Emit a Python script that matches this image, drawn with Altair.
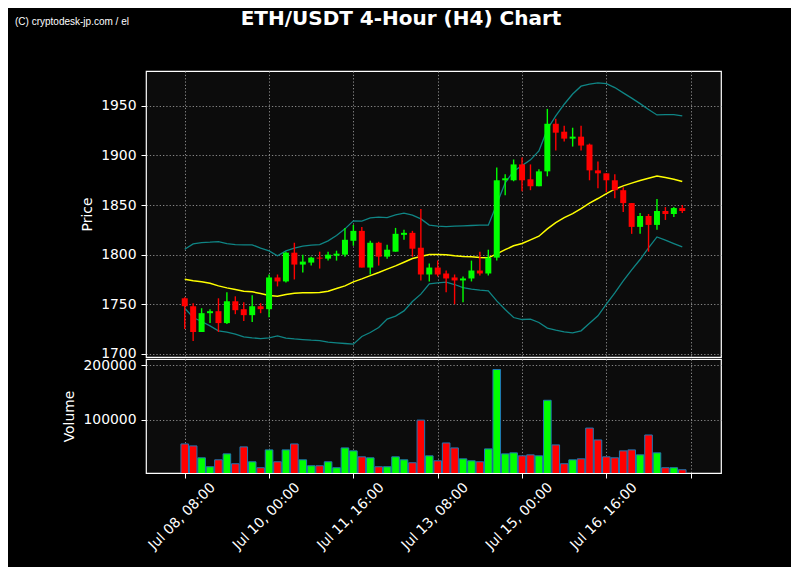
import altair as alt
import pandas as pd

# ---------------- data ----------------
title_text = "ETH/USDT 4-Hour (H4) Chart"
watermark_text = "(C) cryptodesk-jp.com / el"

tick_index = [0, 10, 20, 30, 40, 50, 60]
tick_labels = ["Jul 08, 08:00", "Jul 10, 00:00", "Jul 11, 16:00", "Jul 13, 08:00",
               "Jul 15, 00:00", "Jul 16, 16:00", ""]

opens = [1756, 1748, 1722, 1741, 1743, 1731, 1753, 1745, 1739, 1748,
         1745, 1777, 1773, 1802, 1790, 1792, 1797, 1796, 1799, 1800,
         1814, 1824, 1787, 1812, 1798, 1803, 1820, 1822, 1807, 1780,
         1787, 1781, 1777, 1774, 1776, 1784, 1781, 1797, 1875, 1875,
         1891, 1876, 1869, 1884, 1932, 1924, 1917, 1919, 1911, 1885,
         1882, 1875, 1865, 1852, 1828, 1839, 1830, 1844, 1841, 1847]
highs = [1757, 1751, 1746, 1745, 1756, 1762, 1758, 1752, 1759, 1751,
         1780, 1780, 1803, 1812, 1800, 1798, 1803, 1803, 1804, 1827,
         1830, 1828, 1814, 1813, 1810, 1827, 1825, 1824, 1846, 1791,
         1794, 1784, 1780, 1778, 1794, 1803, 1805, 1888, 1881, 1896,
         1898, 1891, 1886, 1947, 1937, 1930, 1928, 1930, 1912, 1894,
         1882, 1881, 1868, 1852, 1842, 1841, 1856, 1848, 1848, 1850]
lows = [1725, 1713, 1722, 1731, 1722, 1730, 1740, 1733, 1732, 1741,
        1737, 1768, 1772, 1775, 1782, 1789, 1786, 1794, 1794, 1798,
        1809, 1787, 1780, 1789, 1796, 1803, 1815, 1798, 1774, 1773,
        1778, 1762, 1750, 1752, 1773, 1779, 1779, 1794, 1860, 1874,
        1864, 1865, 1869, 1879, 1905, 1914, 1909, 1905, 1875, 1867,
        1863, 1857, 1843, 1821, 1821, 1803, 1825, 1835, 1838, 1842]
closes = [1748, 1722, 1741, 1743, 1731, 1753, 1744, 1739, 1748, 1745,
          1777, 1773, 1802, 1790, 1793, 1797, 1796, 1800, 1801, 1815,
          1824, 1787, 1812, 1798, 1805, 1821, 1822, 1806, 1780, 1787,
          1780, 1776, 1774, 1776, 1784, 1781, 1797, 1875, 1877, 1891,
          1875, 1869, 1884, 1932, 1923, 1917, 1919, 1910, 1885, 1882,
          1875, 1865, 1852, 1828, 1839, 1830, 1844, 1841, 1847, 1844]
volumes = [55800, 52200, 30400, 14000, 26700, 37600, 19500, 50400, 23100, 12200,
           44900, 23100, 44900, 55800, 26700, 15800, 15800, 23100, 12200, 48500,
           43100, 32200, 30400, 14000, 14000, 32200, 26700, 21300, 99500, 34000,
           24900, 57600, 48500, 28500, 24900, 23100, 46700, 192200, 37600, 39500,
           34000, 35800, 34000, 135800, 54000, 19500, 26700, 28500, 84900, 63100,
           32200, 30400, 43100, 44900, 35800, 72200, 39500, 12200, 12200, 8500]
sma20 = [1775.3, 1773.6, 1772.6, 1771.2, 1768.5, 1766.5, 1764.8, 1763.2, 1762.5, 1760.8,
         1758.8, 1758.1, 1759.8, 1761.0, 1761.5, 1761.5, 1761.8, 1763.2, 1765.8, 1768.5,
         1772.6, 1775.6, 1778.9, 1782.0, 1785.4, 1788.7, 1792.4, 1796.1, 1798.1, 1800.1,
         1800.1, 1799.8, 1798.8, 1798.1, 1797.8, 1797.1, 1796.8, 1800.8, 1805.1, 1808.9,
         1811.2, 1814.9, 1818.6, 1826.0, 1832.4, 1837.4, 1841.4, 1846.5, 1851.9, 1856.6,
         1861.6, 1866.0, 1869.4, 1872.1, 1874.7, 1877.1, 1879.4, 1877.7, 1876.1, 1873.7]
upper_band = [1805.5, 1810.9, 1812.2, 1812.6, 1813.2, 1811.2, 1810.2, 1809.9, 1809.9, 1806.5,
              1803.8, 1798.8, 1803.8, 1806.7, 1808.6, 1809.6, 1810.2, 1813.9, 1819.3, 1826.0,
              1834.1, 1833.8, 1837.1, 1837.8, 1837.4, 1840.1, 1841.8, 1839.8, 1836.1, 1829.8,
              1828.7, 1828.3, 1828.7, 1829.0, 1829.4, 1829.7, 1829.7, 1850.9, 1872.4, 1884.2,
              1889.8, 1895.6, 1904.6, 1926.5, 1939.9, 1951.7, 1962.0, 1969.9, 1971.9, 1973.2,
              1972.5, 1968.5, 1963.1, 1957.8, 1952.3, 1946.3, 1940.9, 1941.2, 1941.2, 1939.9]
lower_band = [1746.0, 1736.6, 1732.6, 1728.2, 1723.2, 1721.9, 1719.9, 1717.1, 1716.1, 1715.4,
              1716.1, 1718.1, 1715.8, 1715.0, 1714.4, 1713.8, 1713.4, 1711.8, 1711.1, 1710.4,
              1709.8, 1717.5, 1721.5, 1726.5, 1735.0, 1738.0, 1743.3, 1752.7, 1760.2, 1770.6,
              1771.6, 1772.3, 1769.9, 1766.8, 1765.2, 1764.2, 1763.5, 1753.4, 1744.7, 1736.6,
              1734.6, 1735.0, 1731.6, 1725.9, 1723.9, 1722.2, 1721.2, 1723.2, 1730.9, 1738.3,
              1750.1, 1761.5, 1773.6, 1784.7, 1795.1, 1806.9, 1817.9, 1814.6, 1811.2, 1807.9]

price_ticks = [1700, 1750, 1800, 1850, 1900, 1950]
volume_ticks = [100000, 200000]

# ---------------- table ----------------
df = pd.DataFrame({
    "i": list(range(len(opens))),
    "open": opens, "high": highs, "low": lows, "close": closes,
    "volume": volumes, "sma": sma20, "upper": upper_band, "lower": lower_band,
})
df["dir"] = ["up" if c >= o else "down" for o, c in zip(opens, closes)]

UP, DOWN = "#00ff00", "#ff0000"
FONT = "DejaVu Sans"
color = alt.Color("dir:N", scale=alt.Scale(domain=["up", "down"], range=[UP, DOWN]), legend=None)

xscale = alt.Scale(domain=[-4.0, 63.0], nice=False, zero=False)
label_expr = "[" + ",".join("'" + t + "'" for t in tick_labels) + "][round(datum.value / 10)]"

W = 575
H_PRICE = 286
H_VOL = 114

x_price = alt.X("i:Q", scale=xscale,
                axis=alt.Axis(values=tick_index, labels=False, ticks=False, domain=False,
                              title=None, grid=True))
pscale = alt.Scale(domain=[1696.8, 1985.2], nice=False, zero=False)
price_axis = alt.Axis(values=price_ticks, title="Price", titlePadding=6, format="d")

base = alt.Chart(df)

wicks = base.mark_rule(strokeWidth=1.4).encode(
    x=x_price,
    y=alt.Y("low:Q", scale=pscale, axis=price_axis),
    y2="high:Q",
    color=color,
)
bodies = base.mark_bar(size=6).encode(
    x=alt.X("i:Q", scale=xscale),
    y=alt.Y("open:Q", scale=pscale),
    y2="close:Q",
    color=color,
)
ma_line = base.mark_line(color="#ffff00", strokeWidth=1.5).encode(
    x=alt.X("i:Q", scale=xscale), y=alt.Y("sma:Q", scale=pscale))
up_line = base.mark_line(color="#0f8585", strokeWidth=1.3).encode(
    x=alt.X("i:Q", scale=xscale), y=alt.Y("upper:Q", scale=pscale))
lo_line = base.mark_line(color="#0f8585", strokeWidth=1.3).encode(
    x=alt.X("i:Q", scale=xscale), y=alt.Y("lower:Q", scale=pscale))

title_mark = alt.Chart(pd.DataFrame({"t": [title_text]})).mark_text(
    font=FONT, fontSize=20, fontWeight="bold", color="white", align="center",
    baseline="alphabetic").encode(text="t:N", x=alt.value(255), y=alt.value(-46))
wm_mark = alt.Chart(pd.DataFrame({"t": [watermark_text]})).mark_text(
    font="Liberation Sans", fontSize=10, color="white", align="left",
    baseline="alphabetic").encode(text="t:N", x=alt.value(-131), y=alt.value(-46))

price = alt.layer(up_line, lo_line, ma_line, wicks, bodies, title_mark, wm_mark).properties(
    width=W, height=H_PRICE)

vol = alt.Chart(df).mark_bar(size=7.6, stroke="#1f77b4", strokeWidth=1, clip=True).encode(
    x=alt.X("i:Q", scale=xscale,
            axis=alt.Axis(values=tick_index, labelExpr=label_expr, labelAngle=-45,
                          labelAlign="right", labelBaseline="middle", labelOffset=28,
                          labelPadding=7, tickSize=5, labelOverlap=False, labelFlush=False,
                          title=None, grid=True)),
    y=alt.Y("volume:Q", scale=alt.Scale(domain=[2550, 211400], nice=False, zero=False),
            axis=alt.Axis(values=volume_ticks, format="d", title="Volume", titlePadding=6)),
    color=color,
).properties(width=W, height=H_VOL)

chart = alt.vconcat(price, vol, spacing=2, bounds="flush").properties(
    padding={"left": 6, "top": 0, "right": 66, "bottom": 14},
).configure(
    background="black",
).configure_view(
    fill="#0c0c0c", stroke="white", strokeWidth=1.2,
).configure_axis(
    labelColor="white", labelFont=FONT, labelFontSize=13.9,
    titleColor="white", titleFont=FONT, titleFontSize=13.9, titleFontWeight="normal",
    tickColor="white", tickSize=5, tickWidth=1, labelPadding=5,
    domain=False,
    gridColor="#9a9a9a", gridDash=[1.3, 2], gridWidth=1, gridOpacity=0.85,
)

chart.save("out.html", embed_options={"renderer": "svg", "actions": False})
